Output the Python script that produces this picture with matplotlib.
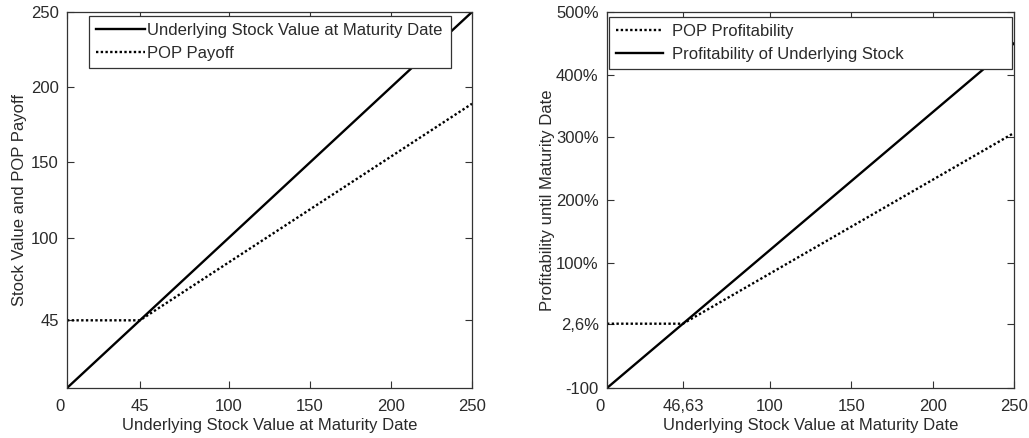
import matplotlib
matplotlib.use("Agg")
import matplotlib.pyplot as plt
from matplotlib.transforms import ScaledTranslation

plt.rcParams['font.family'] = ['Liberation Sans', 'DejaVu Sans']

# ---- Data (left panel) ----
stock_x = [0, 250]
stock_y = [0, 250]
pop_x = [0, 45, 250]
pop_y = [45, 45, 189]
left_xticks = [0, 45, 100, 150, 200, 250]
left_yticks = [45, 100, 150, 200, 250]
left_yticklabels = ['45', '100', '150', '200', '250']

# ---- Data (right panel) ----
pop_prof_x = [0, 46.63, 250]
pop_prof_y = [2.6, 2.6, 307]
stock_prof_x = [0, 250]
stock_prof_y = [-100, 450]
right_xticks = [0, 46.63, 100, 150, 200, 250]
right_xticklabels = ['0', '46,63', '100', '150', '200', '250']
right_yticks = [-100, 2.6, 100, 200, 300, 400, 500]
right_yticklabels = ['-100', '2,6%', '100%', '200%', '300%', '400%', '500%']

TXT = '#2a2a2a'
FS = 12
DOT = (0, (1.0, 1.0))

fig = plt.figure(figsize=(10.29, 4.38), dpi=100)
W, H = 1029, 438

def axes_px(x0, x1, ytop, ybot):
    return fig.add_axes([x0 / W, 1 - ybot / H, (x1 - x0) / W, (ybot - ytop) / H])

ax1 = axes_px(67, 472, 12, 388)
ax2 = axes_px(607, 1014, 12, 388)

for ax in (ax1, ax2):
    ax.tick_params(direction='in', length=5, width=0.8, top=True, right=True,
                   labelsize=FS, labelcolor=TXT, color='#333333')
    ax.tick_params(axis='x', pad=8)
    ax.tick_params(axis='y', pad=6)
    for s in ax.spines.values():
        s.set_linewidth(0.9)
        s.set_color('#333333')

# Left panel
l1, = ax1.plot(stock_x, stock_y, color='black', lw=1.7, linestyle='-',
               label='Underlying Stock Value at Maturity Date')
l2, = ax1.plot(pop_x, pop_y, color='black', lw=1.7, linestyle=DOT,
               label='POP Payoff')
ax1.set_xlim(0, 250)
ax1.set_ylim(0, 250)
ax1.set_xticks(left_xticks)
ax1.set_yticks(left_yticks)
ax1.set_yticklabels(left_yticklabels)
ax1.set_xlabel('Underlying Stock Value at Maturity Date', fontsize=FS, color=TXT, labelpad=3)
ax1.set_ylabel('Stock Value and POP Payoff', fontsize=FS, color=TXT, labelpad=3)
leg1 = ax1.legend(handles=[l1, l2], loc='upper left',
                  bbox_to_anchor=(0.054, 0.0, 0.894, 0.989), mode='expand',
                  borderaxespad=0, fancybox=False, framealpha=1, edgecolor='#333333',
                  fontsize=FS, handlelength=2.95, handletextpad=0.12,
                  labelspacing=0.45, borderpad=0.42, labelcolor=TXT)
leg1.get_frame().set_linewidth(0.9)

# Right panel
r1, = ax2.plot(pop_prof_x, pop_prof_y, color='black', lw=1.7, linestyle=DOT,
               label='POP Profitability')
r2, = ax2.plot(stock_prof_x, stock_prof_y, color='black', lw=1.7, linestyle='-',
               label='Profitability of Underlying Stock')
ax2.set_xlim(0, 250)
ax2.set_ylim(-100, 500)
ax2.set_xticks(right_xticks)
ax2.set_xticklabels(right_xticklabels)
ax2.set_yticks(right_yticks)
ax2.set_yticklabels(right_yticklabels)
ax2.set_xlabel('Underlying Stock Value at Maturity Date', fontsize=FS, color=TXT, labelpad=3)
ax2.set_ylabel('Profitability until Maturity Date', fontsize=FS, color=TXT, labelpad=1)
leg2 = ax2.legend(handles=[r1, r2], loc='upper left',
                  bbox_to_anchor=(0.005, 0.0, 0.99, 0.986), mode='expand',
                  borderaxespad=0, fancybox=False, framealpha=1, edgecolor='#333333',
                  fontsize=FS, handlelength=2.8, handletextpad=0.55,
                  labelspacing=0.45, borderpad=0.42, labelcolor=TXT)
leg2.get_frame().set_linewidth(0.9)

# shift the "0" x tick labels slightly left, as in the reference
for ax in (ax1, ax2):
    lab = ax.get_xticklabels()[0]
    lab.set_transform(lab.get_transform() + ScaledTranslation(-7 / 100, 0, fig.dpi_scale_trans))

fig.savefig('out.png', dpi=100, facecolor='white')
